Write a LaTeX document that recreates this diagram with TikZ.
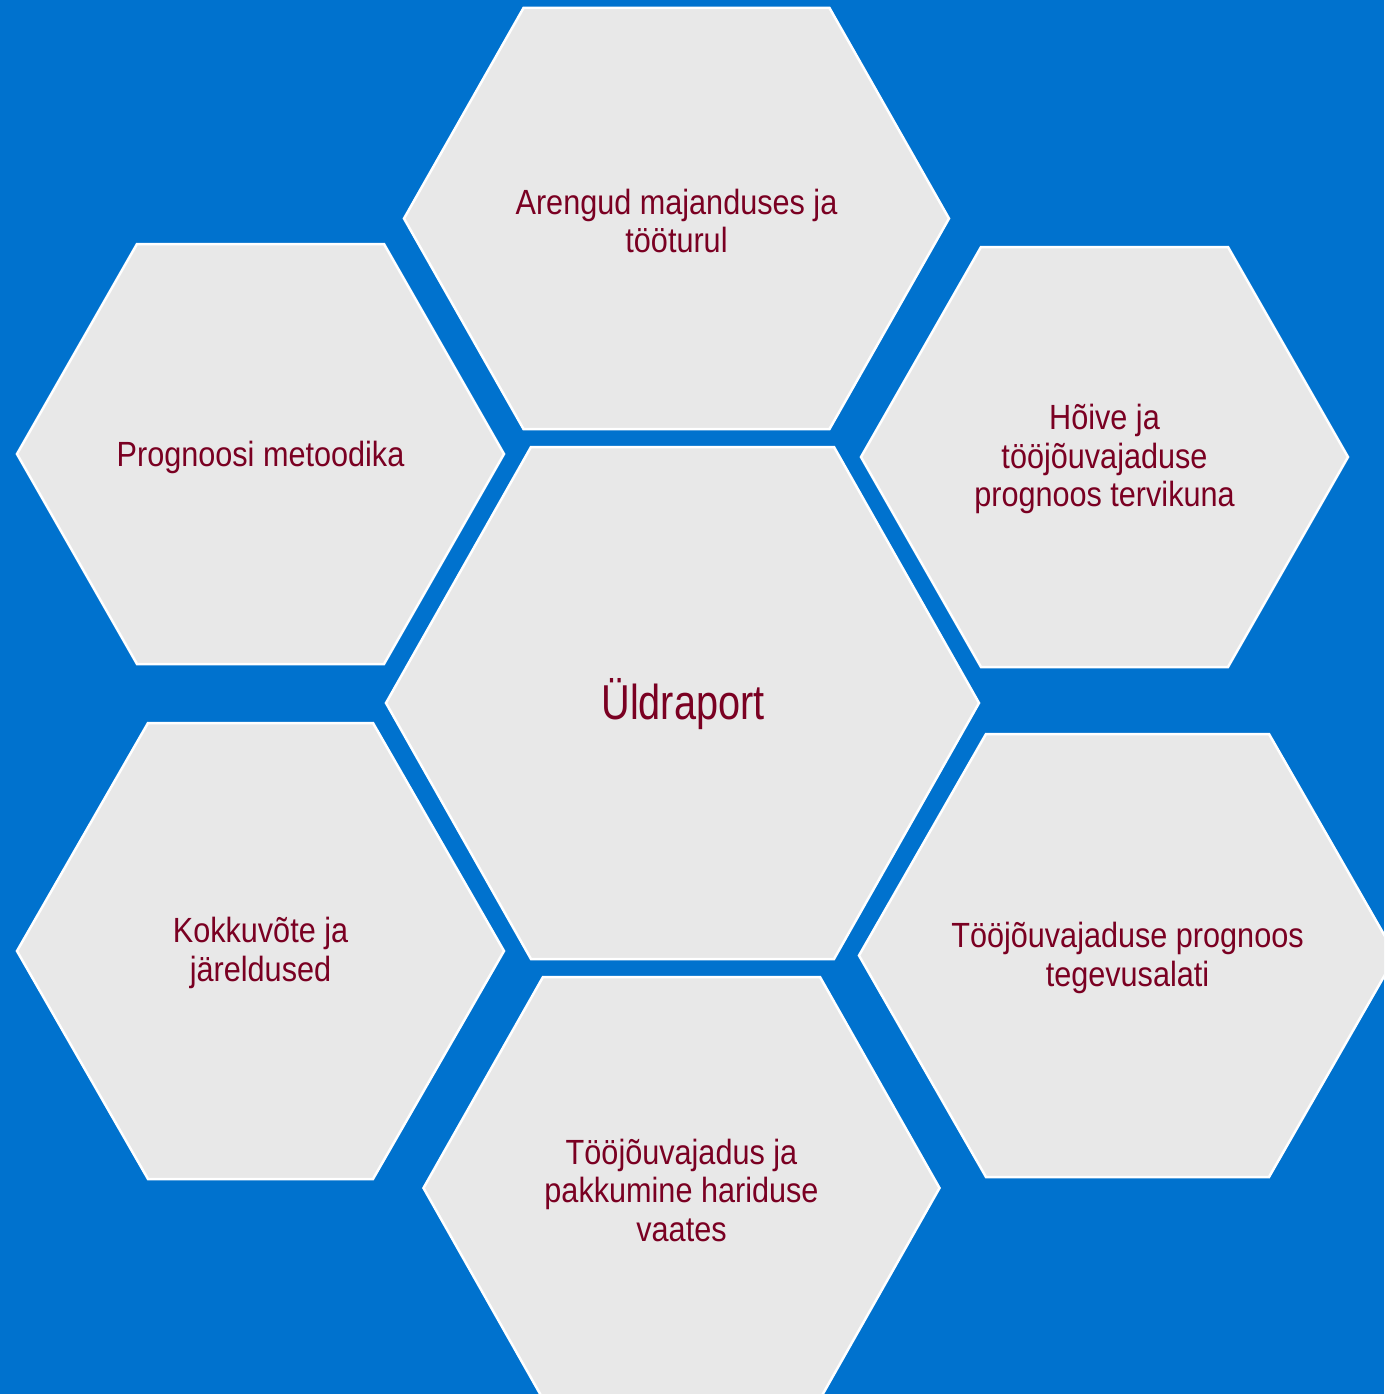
\documentclass[tikz,border=0pt]{standalone}
\usepackage{fontspec}
\setmainfont{Liberation Sans}[FakeStretch=0.875]
\newfontfamily\bigfont{Liberation Sans}[FakeStretch=0.81]
\definecolor{bgblue}{RGB}{0,114,206}
\definecolor{hexgray}{RGB}{232,232,232}
\definecolor{lblred}{RGB}{122,0,34}
\newcommand\hexshape[5]{%
  \draw[hexfill] (#1-#3,#2) -- (#1-#5,#2-#4) -- (#1+#5,#2-#4) -- (#1+#3,#2)
    -- (#1+#5,#2+#4) -- (#1-#5,#2+#4) -- cycle;}
\begin{document}
\begin{tikzpicture}[x=1pt,y=-1pt,
  hexfill/.style={fill=hexgray,draw=white,line width=2.5pt,line join=miter},
  lbl/.style={text=lblred,align=center,inner sep=0pt,font=\fontsize{35}{38.5}\selectfont},
  biglbl/.style={text=lblred,align=center,inner sep=0pt,font=\bigfont\fontsize{49}{54}\selectfont}]
\fill[bgblue] (0,0) rectangle (1384,1394);
\useasboundingbox (0,0) rectangle (1384,1394);
\begin{scope}
\clip (0,0) rectangle (1384,1394);
% top
\hexshape{676.5}{218.5}{272.5}{210.5}{153}
% top-left
\hexshape{260.5}{454}{243.5}{210}{123.5}
% top-right
\hexshape{1104.5}{457}{243.5}{210}{123.5}
% center
\hexshape{682.5}{703}{296.5}{256}{151.5}
% bottom-left
\hexshape{260.5}{951}{243.5}{228}{112.5}
% bottom-right
\hexshape{1127.5}{955.5}{268.5}{221.5}{141.5}
% bottom
\hexshape{681.5}{1188}{258}{211}{138.5}
\end{scope}
\node[lbl] (top) at (676.5,221) {Arengud majanduses ja\\tööturul};
\node[lbl] (tl) at (260.5,457) {Prognoosi metoodika};
\node[lbl] (tr) at (1104.5,459) {Hõive ja\\tööjõuvajaduse\\prognoos tervikuna};
\node[biglbl] (center) at (683,704) {Üldraport};
\node[lbl] (bl) at (260.5,953) {Kokkuvõte ja\\järeldused};
\node[lbl] (br) at (1127.5,958) {Tööjõuvajaduse prognoos\\tegevusalati};
\node[lbl] (bottom) at (681.5,1190) {Tööjõuvajadus ja\\pakkumine hariduse\\vaates};
\end{tikzpicture}
\end{document}
